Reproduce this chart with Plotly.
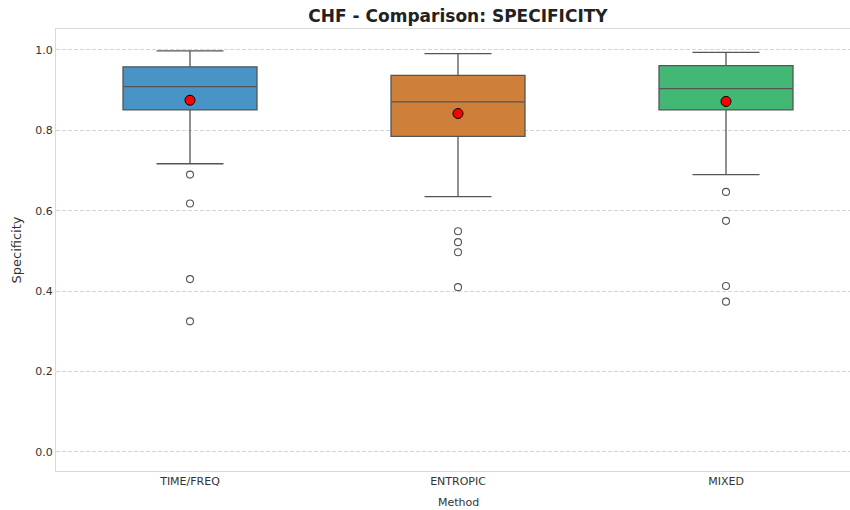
import plotly.graph_objects as go

methods = ["TIME/FREQ", "ENTROPIC", "MIXED"]
q1 = [0.851, 0.785, 0.851]
median = [0.909, 0.871, 0.904]
q3 = [0.958, 0.937, 0.961]
lower_whisker = [0.717, 0.635, 0.690]
upper_whisker = [0.998, 0.991, 0.994]
means = [0.875, 0.842, 0.872]
outliers = [
    [0.690, 0.618, 0.430, 0.325],
    [0.549, 0.522, 0.497, 0.410],
    [0.647, 0.575, 0.413, 0.374],
]
colors = ["#4994c6", "#ce803a", "#42b874"]

edge = "#555555"
fig = go.Figure()
for i, m in enumerate(methods):
    fig.add_trace(go.Box(
        x=[m], q1=[q1[i]], median=[median[i]], q3=[q3[i]],
        lowerfence=[lower_whisker[i]], upperfence=[upper_whisker[i]],
        width=0.5, whiskerwidth=0.5, fillcolor=colors[i],
        line=dict(color=edge, width=1.3), boxpoints=False,
        showlegend=False,
    ))
    fig.add_trace(go.Scatter(
        x=[m] * len(outliers[i]), y=outliers[i], mode="markers",
        marker=dict(symbol="circle-open", size=7, color=edge, line=dict(width=1.1, color=edge)),
        showlegend=False,
    ))
    fig.add_trace(go.Scatter(
        x=[m], y=[means[i]], mode="markers",
        marker=dict(symbol="circle", size=10, color="red", line=dict(width=1, color="black")),
        showlegend=False,
    ))

left, right, top, bottom = 56, 0, 29, 39
W, H = 850, 510
plot_w = W - left - right
fig.update_layout(
    width=W, height=H,
    margin=dict(l=left, r=right, t=top, b=bottom),
    paper_bgcolor="white", plot_bgcolor="white",
    font=dict(family="DejaVu Sans", size=11, color="#333333"),
    boxmode="overlay",
    title=dict(text="<b>CHF - Comparison: SPECIFICITY</b>", font=dict(size=17, color="#222222"),
               x=(458 - left) / plot_w, xanchor="center", xref="paper",
               y=1 - 16 / H, yanchor="middle", yref="container"),
    xaxis=dict(
        type="category", categoryorder="array", categoryarray=methods,
        range=[-0.5, 2.5 - 10 / 268],
        showgrid=False, showline=True, mirror=True, linecolor="#d9d9d9", linewidth=1.2,
        ticks="", tickfont=dict(size=11, color="#333333"),
    ),
    yaxis=dict(
        range=[-0.0473, 1.0522], tickvals=[0, 0.2, 0.4, 0.6, 0.8, 1.0], tickformat=".1f",
        showgrid=True, gridcolor="#d5d5d5", griddash="4px,2px", gridwidth=1,
        showline=True, linecolor="#d9d9d9", linewidth=1.2, zeroline=False,
        ticks="", tickfont=dict(size=11, color="#333333"),
        title=dict(text="Specificity", font=dict(size=13, color="#333333"), standoff=10),
    ),
    annotations=[dict(text="Method", xref="paper", yref="paper",
                      x=(458 - left) / plot_w, y=-(502 - (H - bottom)) / (H - top - bottom),
                      showarrow=False, xanchor="center", yanchor="middle",
                      font=dict(size=11, color="#333333"))],
)
fig.write_html("out.html")
